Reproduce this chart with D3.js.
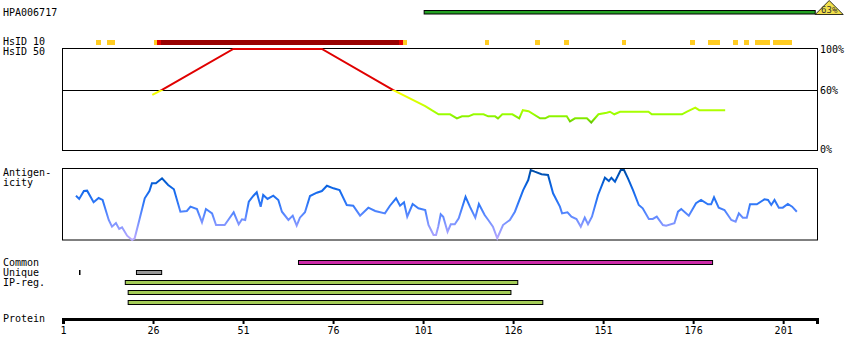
<!DOCTYPE html>
<html>
<head>
<meta charset="utf-8">
<script src="https://cdn.jsdelivr.net/npm/d3@7"></script>
<style>
  body { margin: 0; background: #fff; }
  text { font-family: "DejaVu Sans Mono", monospace; font-size: 10px; fill: #000; }
</style>
</head>
<body>
<script>
// protein residues shown along the bottom axis
const residueDomain = [1, 210.4];
const tickResidues = [1, 26, 51, 76, 101, 126, 151, 176, 201];

// antibody track (HPA006717) and its identity badge
const hpaName = "HPA006717";
const hpaSpan = [101.3, 209.9];
const hpaBadge = "63%";

// HsID 10 row: [from, to] residue spans
const hsid10Low = [[10.2, 11.5], [13.3, 15.5], [26.3, 27.0], [95.4, 96.6], [118.2, 119.3], [132.1, 133.5],
  [140.2, 141.6], [156.3, 157.4], [175.2, 176.5], [180.2, 183.5], [187.1, 188.5], [190.2, 191.6],
  [193.2, 197.4], [198.2, 203.5]];
const hsid10Mid = [[27.0, 28.2], [94.3, 95.4]];
const hsid10High = [[28.2, 94.3]];

// HsID 50 identity line: [residue, percent]
const hsid50 = [[25.8, 55], [28.5, 60], [48.3, 100], [72.9, 100], [92.6, 60], [101.6, 44], [103.4, 40],
  [105.3, 36], [108.5, 36], [110.4, 32], [111.8, 34], [113.6, 34], [115, 36], [117.8, 36], [119.1, 34],
  [121, 34], [121.8, 32], [123, 36], [125.8, 36], [127.7, 32], [128.7, 40], [130.3, 39], [133.5, 32],
  [134.9, 32], [136, 34], [140.9, 34], [141.8, 29], [143.2, 32], [146.5, 32], [147.7, 28], [149.7, 36],
  [152, 37.5], [152.9, 38.5], [154.1, 36], [155.7, 38.5], [163.6, 38.5], [164.5, 36], [172.9, 36],
  [174.3, 38.5], [176.6, 42.5], [177.7, 40], [184.9, 40]];
const hsidTicks = [100, 60, 0];

// antigenicity profile: [residue, relative score 0-100]
const antigenicity = [[4.6, 61.5], [5.5, 57], [6.8, 68], [7.7, 68.5], [9.5, 52.4], [10.9, 58.3], [12, 55.6],
  [13.7, 27.8], [14.6, 18.5], [15.7, 23.6], [16.6, 15.3], [17.4, 17.6], [18.8, 6], [20.2, 0], [20.9, 2.4],
  [22.2, 27.8], [23.7, 57.9], [25, 68], [25.7, 78.8], [26.8, 78.8], [28.5, 85.7], [30.2, 76.4], [31.8, 70.4],
  [33.6, 39.3], [35.4, 40.3], [36.4, 46.3], [38.2, 43], [39.6, 24.6], [40.7, 43], [42.4, 37], [43.5, 20.8],
  [45.9, 20.8], [48.4, 38.5], [49.8, 21.8], [50.7, 28.8], [51.6, 27.8], [52.6, 53.2], [53.3, 57.9],
  [53.9, 61.5], [54.8, 66.3], [55.9, 46.3], [56.6, 62.5], [57.8, 57], [59.4, 61.5], [60.8, 55.6],
  [61.8, 39.3], [63.6, 27.8], [64.8, 33.8], [65.9, 19.9], [66.8, 31], [68.2, 38.5], [69.6, 61.1],
  [71.5, 65.7], [72.9, 68], [74.3, 75.4], [76.1, 71.8], [77.8, 69.4], [79.8, 48.6], [81.6, 47.6],
  [83.5, 33.8], [85.8, 44.9], [87.7, 40.3], [90.4, 37], [91.8, 47.6], [93.5, 57.9], [94.6, 47.6],
  [95.7, 52.4], [96.6, 32.4], [98.1, 50], [99.7, 44], [101.6, 41.7], [102.5, 20.8], [103.9, 6.9],
  [104.6, 6.9], [105.2, 18.5], [105.9, 35.7], [106.6, 32.4], [107.8, 11.5], [108.7, 21.8], [109.8, 21.8],
  [110.9, 30.1], [112.8, 60.1], [114, 46.3], [115.5, 31], [116.5, 50], [118.1, 34.7], [119.1, 27.8],
  [120.4, 18.5], [121.6, 2.4], [123.2, 20.8], [125.1, 27.8], [126.5, 39.3], [128.8, 69.4], [130.2, 83.3],
  [130.9, 97.2], [132, 94.9], [133.9, 91.3], [135.7, 90.3], [137.1, 64.9], [139, 46.3], [139.6, 37],
  [141.1, 38.5], [142.2, 32.4], [143.6, 29.2], [144.8, 18.5], [145.9, 31], [146.8, 21.8], [147.9, 32.4],
  [149.6, 62.5], [151.5, 86.5], [152.6, 81.9], [153.3, 86.5], [154.3, 81], [155.9, 97.2], [156.8, 97.2],
  [157.9, 85.7], [159.3, 69.4], [160.9, 48.6], [162, 44], [163.7, 29.2], [164.8, 29.2], [165.9, 32.4],
  [167.6, 20.8], [168.5, 19.9], [170.8, 23.2], [171.8, 39.3], [172.7, 43], [174.8, 33.8], [176.8, 51],
  [178.2, 55.6], [180.1, 49.6], [181, 49.6], [181.8, 59.3], [183.1, 44.9], [184.7, 41.7], [186.6, 27.8],
  [187.8, 25.4], [188.7, 37], [189.8, 31], [190.9, 31], [191.8, 49.6], [193.7, 49.6], [195.8, 56.5],
  [196.8, 55.6], [197.7, 48.6], [198.6, 55.6], [199.8, 44.9], [200.9, 44.9], [202.3, 50], [203.5, 46.3],
  [204.8, 39.3]];

// feature bars: [from, to] residues
const commonSpans = [[66.4, 181.4]];
const uniqueMarks = [5.4];
const uniqueSpans = [[21.4, 28.4]];
const ipRegSpans = [[18.3, 127.3], [19.1, 125.4], [19.1, 134.25]];

const width = 850, height = 360;

const svg = d3.select("body").append("svg")
    .attr("xmlns", "http://www.w3.org/2000/svg")
    .attr("width", width)
    .attr("height", height);

const x = d3.scaleLinear().domain(residueDomain).range([63, 817]);
const yHs = d3.scaleLinear().domain([0, 100]).range([151, 49]);
const yAg = d3.scaleLinear().domain([0, 100]).range([240, 168]);

const defs = svg.append("defs");

// colour follows value, so a vertical gradient in user space does it
const hsGrad = defs.append("linearGradient")
    .attr("id", "hsGrad")
    .attr("gradientUnits", "userSpaceOnUse")
    .attr("x1", 0).attr("x2", 0)
    .attr("y1", yHs(100)).attr("y2", yHs(0));
[[0, "#e00000"], [0.4, "#e00000"], [0.4, "#ffff00"], [0.55, "#ccff00"], [0.64, "#99ff00"],
 [0.7, "#77dd00"], [0.74, "#55b000"], [1, "#3a9000"]]
  .forEach(([o, c]) => hsGrad.append("stop").attr("offset", o).attr("stop-color", c));

const agGrad = defs.append("linearGradient")
    .attr("id", "agGrad")
    .attr("gradientUnits", "userSpaceOnUse")
    .attr("x1", 0).attr("x2", 0)
    .attr("y1", yAg(100)).attr("y2", yAg(0));
[[0, "#004a9c"], [0.15, "#0058c8"], [0.3, "#1268ea"], [0.5, "#3078f8"], [0.65, "#5a88ff"],
 [0.8, "#8898ff"], [1, "#b8a8ff"]]
  .forEach(([o, c]) => agGrad.append("stop").attr("offset", o).attr("stop-color", c));

// --- labels on the left
const leftLabels = [
  [hpaName, 16], ["HsID 10", 45], ["HsID 50", 55], ["Antigen-", 176], ["icity", 186],
  ["Common", 266], ["Unique", 276], ["IP-reg.", 286], ["Protein", 322]
];
svg.append("g").selectAll("text")
  .data(leftLabels)
  .join("text")
    .attr("x", 3)
    .attr("y", d => d[1])
    .text(d => d[0]);

// --- antibody track
svg.append("rect")
    .attr("x", x(hpaSpan[0]))
    .attr("y", 10.5)
    .attr("width", x(hpaSpan[1]) - x(hpaSpan[0]))
    .attr("height", 3.5)
    .attr("fill", "#22a022")
    .attr("stroke", "#000")
    .attr("stroke-width", 1);

const bx = x(hpaSpan[1]) + 14;
svg.append("path")
    .attr("d", `M${bx - 14},14.5 L${bx},0.5 L${bx + 14},14.5 Z`)
    .attr("fill", "#f2df4a")
    .attr("stroke", "#000")
    .attr("stroke-width", 0.8);
svg.append("text")
    .attr("x", bx)
    .attr("y", 12.5)
    .attr("text-anchor", "middle")
    .style("font-size", "9px")
    .style("fill", "#333")
    .text(hpaBadge);

// --- HsID 10 row
const row10 = svg.append("g").attr("shape-rendering", "crispEdges");
[[hsid10Low, "#ffcc22"], [hsid10Mid, "#e00000"], [hsid10High, "#990000"]].forEach(([spans, col]) => {
  row10.selectAll(null)
    .data(spans)
    .join("rect")
      .attr("x", d => x(d[0]))
      .attr("y", 40)
      .attr("width", d => x(d[1]) - x(d[0]))
      .attr("height", 4.5)
      .attr("fill", col);
});

// --- HsID 50 panel
svg.append("rect")
    .attr("x", 62.5).attr("y", 48.5)
    .attr("width", 755).attr("height", 102)
    .attr("fill", "none").attr("stroke", "#000");
svg.append("line")
    .attr("x1", 62.5).attr("x2", 817.5)
    .attr("y1", Math.round(yHs(60)) + 0.5).attr("y2", Math.round(yHs(60)) + 0.5)
    .attr("stroke", "#000");
svg.append("g").selectAll("text")
  .data(hsidTicks)
  .join("text")
    .attr("x", 820)
    .attr("y", d => d === 0 ? 153 : Math.round(yHs(d)) + 4)
    .text(d => d + "%");

svg.append("path")
    .datum(hsid50)
    .attr("fill", "none")
    .attr("stroke", "url(#hsGrad)")
    .attr("stroke-width", 2)
    .attr("d", d3.line().x(d => x(d[0])).y(d => yHs(d[1])));

// --- antigenicity panel
svg.append("rect")
    .attr("x", 62.5).attr("y", 168.5)
    .attr("width", 755).attr("height", 71.5)
    .attr("fill", "none").attr("stroke", "#000");

svg.append("path")
    .datum(antigenicity)
    .attr("fill", "none")
    .attr("stroke", "url(#agGrad)")
    .attr("stroke-width", 2)
    .attr("d", d3.line().x(d => x(d[0])).y(d => yAg(d[1])));

// --- feature bars
const bars = svg.append("g").attr("stroke", "#000").attr("stroke-width", 1);
bars.selectAll(".common")
  .data(commonSpans)
  .join("rect")
    .attr("x", d => x(d[0]))
    .attr("y", 260.5)
    .attr("width", d => x(d[1]) - x(d[0]))
    .attr("height", 4)
    .attr("fill", "#cc2aa8");
bars.selectAll(".unique")
  .data(uniqueSpans)
  .join("rect")
    .attr("x", d => x(d[0]))
    .attr("y", 270.5)
    .attr("width", d => x(d[1]) - x(d[0]))
    .attr("height", 4)
    .attr("fill", "#999999");
svg.append("g").selectAll("rect")
  .data(uniqueMarks)
  .join("rect")
    .attr("x", d => Math.round(x(d)))
    .attr("y", 270)
    .attr("width", 1.5)
    .attr("height", 5)
    .attr("fill", "#000");
bars.selectAll(".ipreg")
  .data(ipRegSpans)
  .join("rect")
    .attr("x", d => x(d[0]))
    .attr("y", (d, i) => 280.5 + i * 10)
    .attr("width", d => x(d[1]) - x(d[0]))
    .attr("height", 4)
    .attr("fill", "#a4cc58");

// --- protein axis
const axis = svg.append("g")
    .attr("transform", "translate(0,319)")
    .call(d3.axisBottom(x).tickValues(tickResidues).tickSize(5).tickSizeOuter(5).tickPadding(3));
axis.attr("font-family", null).attr("font-size", null);
axis.select(".domain").attr("stroke-width", 3);
axis.selectAll(".tick line").attr("stroke-width", 2);
axis.selectAll(".tick text").style("font-size", "10px");
</script>
</body>
</html>
